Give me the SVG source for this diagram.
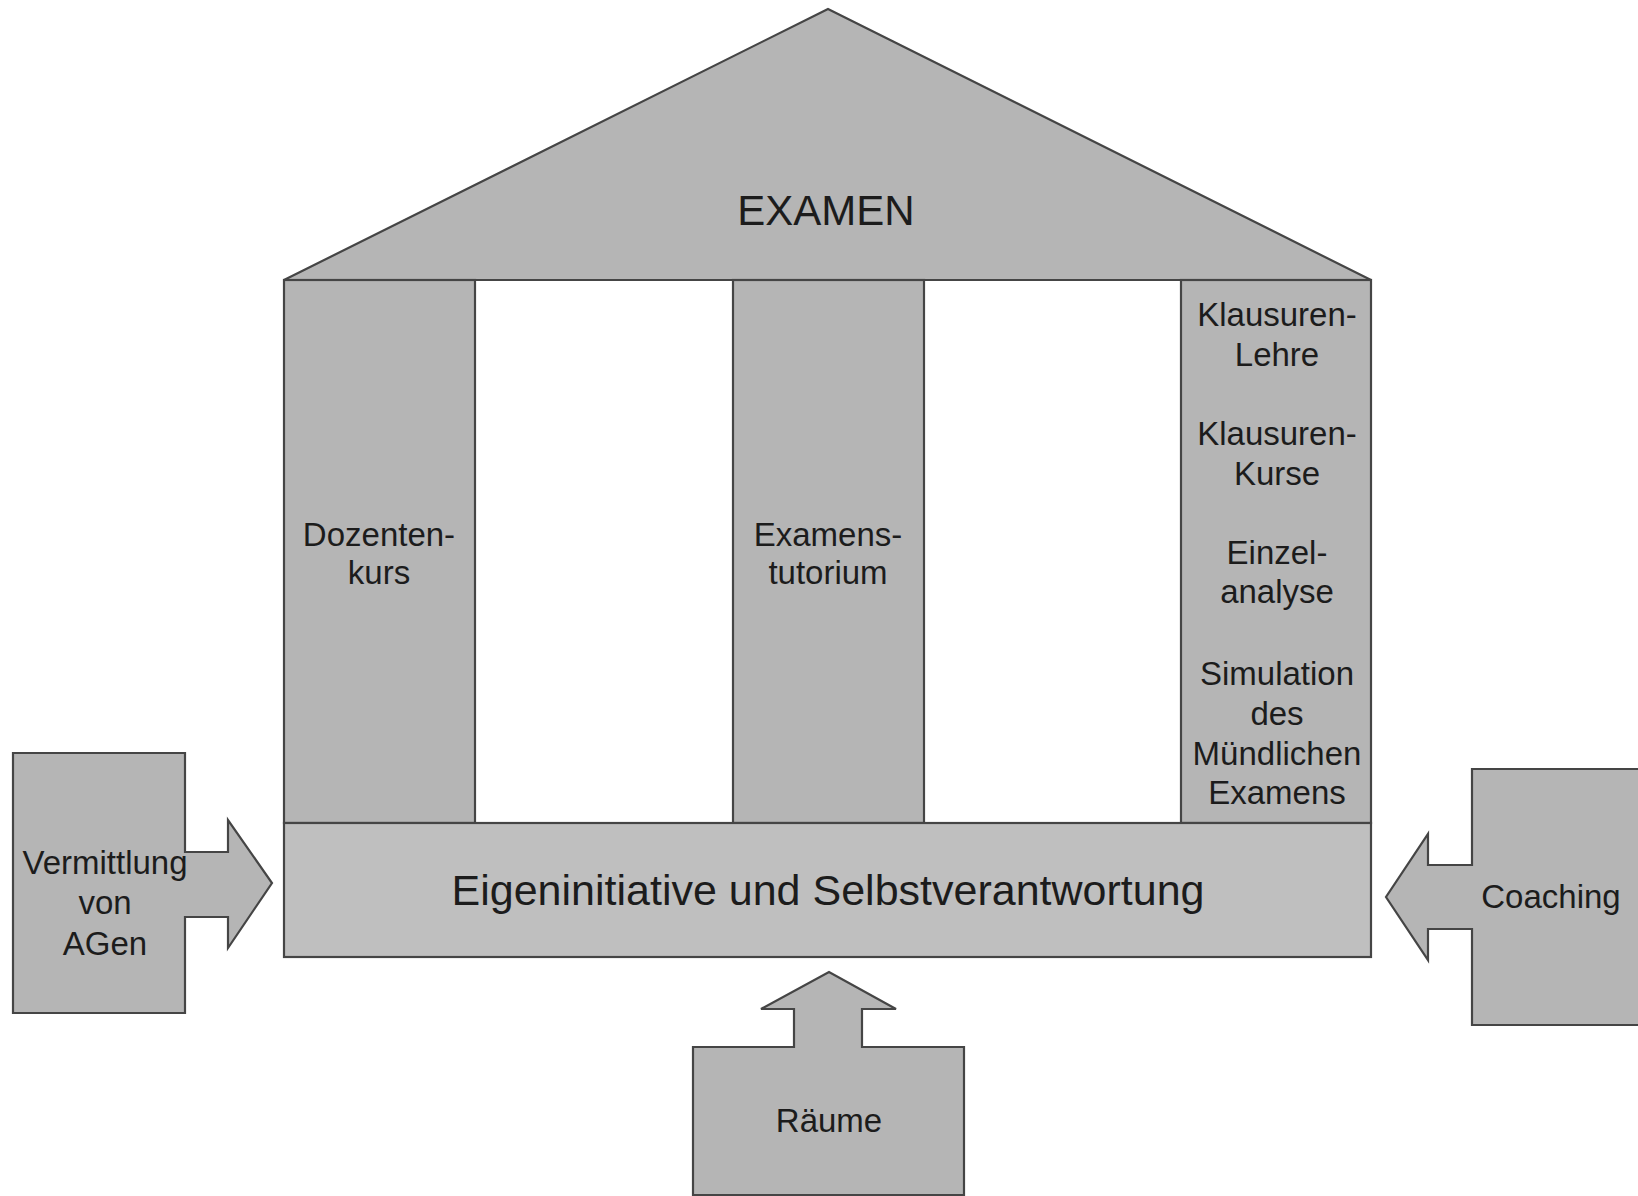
<svg xmlns="http://www.w3.org/2000/svg" width="1638" height="1196" viewBox="0 0 1638 1196">
<style>
.shape{fill:#b5b5b5;stroke:#454545;stroke-width:2.2;stroke-linejoin:miter}
.base{fill:#bfbfbf;stroke:#454545;stroke-width:2.2}
text{font-family:"Liberation Sans",Arial,sans-serif;fill:#1c1c1c;text-anchor:middle}
.t33{font-size:33px}
.t42{font-size:42px}
.t43{font-size:43px}
</style>
<rect x="0" y="0" width="1638" height="1196" fill="#ffffff"/>
<g id="roof">
<polygon class="shape" points="828,9 1371,280 284,280"/>
<text class="t42" x="826" y="225">EXAMEN</text>
</g>
<g id="pillar-dozentenkurs">
<rect class="shape" x="284" y="280" width="191" height="543"/>
<text class="t33" x="379" y="546">Dozenten-</text>
<text class="t33" x="379" y="584">kurs</text>
</g>
<g id="pillar-examenstutorium">
<rect class="shape" x="733" y="280" width="191" height="543"/>
<text class="t33" x="828" y="546">Examens-</text>
<text class="t33" x="828" y="584">tutorium</text>
</g>
<g id="pillar-klausuren">
<rect class="shape" x="1181" y="280" width="190" height="543"/>
<text class="t33" x="1277" y="326">Klausuren-</text>
<text class="t33" x="1277" y="366">Lehre</text>
<text class="t33" x="1277" y="445">Klausuren-</text>
<text class="t33" x="1277" y="485">Kurse</text>
<text class="t33" x="1277" y="564">Einzel-</text>
<text class="t33" x="1277" y="603">analyse</text>
<text class="t33" x="1277" y="685">Simulation</text>
<text class="t33" x="1277" y="725">des</text>
<text class="t33" x="1277" y="765">Mündlichen</text>
<text class="t33" x="1277" y="804">Examens</text>
</g>
<g id="base">
<rect class="base" x="284" y="823" width="1087" height="134"/>
<text class="t43" x="828" y="905">Eigeninitiative und Selbstverantwortung</text>
</g>
<g id="vermittlung">
<path class="shape" d="M13,753 H185 V852 H228 V820 L272,883 L228,948 V917 H185 V1013 H13 Z"/>
<text class="t33" x="105" y="874">Vermittlung</text>
<text class="t33" x="105" y="914">von</text>
<text class="t33" x="105" y="955">AGen</text>
</g>
<g id="coaching">
<path class="shape" d="M1642,769 H1472 V865 H1428 V834 L1386,897 L1428,960 V929 H1472 V1025 H1642 Z"/>
<text class="t33" x="1551" y="908">Coaching</text>
</g>
<g id="raeume">
<path class="shape" d="M693,1195 V1047 H794 V1009 H761 L829,972 L896,1009 H862 V1047 H964 V1195 Z"/>
<text class="t33" x="829" y="1132">Räume</text>
</g>
</svg>
